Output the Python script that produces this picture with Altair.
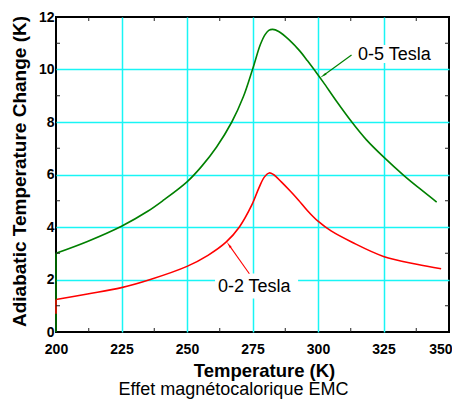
import altair as alt
import pandas as pd

# ---- data ----
temp_05 = [200, 212, 225, 235, 241, 250, 255.5, 261.3, 267.1, 271.5, 275, 278, 279.8,
           281.2, 282.7, 285, 289, 293.1, 296, 299, 302, 307, 312.9, 318.5, 325,
           332.7, 339, 345.3]
dT_05 = [3.0, 3.45, 4.03, 4.6, 5.02, 5.72, 6.3, 7.05, 8.0, 8.96, 10.0, 10.95, 11.33,
         11.49, 11.53, 11.45, 11.13, 10.7, 10.33, 9.93, 9.52, 8.8, 8.0, 7.32, 6.67,
         5.97, 5.45, 4.95]

temp_02 = [200, 212, 225, 236, 250, 258, 265, 270, 274.7, 277.5, 279.5, 281.4, 283,
           286, 289.3, 292.5, 296, 300, 305, 313, 325, 337.7, 347]
dT_02 = [1.24, 1.45, 1.69, 2.0, 2.5, 2.92, 3.43, 4.0, 4.83, 5.5, 5.9, 6.06, 6.0,
         5.72, 5.38, 5.03, 4.62, 4.22, 3.85, 3.42, 2.88, 2.58, 2.41]

series_names = ["0-5 Tesla", "0-2 Tesla"]
series_colors = ["#008000", "#ff0000"]
arrow_colors = ["#0f8a5a", "#ff0000"]

# annotations: text anchor, arrow tail, arrow head, white label box
label_T = [315.3, 261.8]
label_V = [10.57, 1.72]
tail_T = [312.8, 273.8]
tail_V = [10.55, 2.22]
head_T = [302.3, 266.2]
head_V = [9.79, 3.29]
head_angle = [234, 325]
box_T1 = [314.5, 260.7]
box_T2 = [343.5, 292.4]
box_V1 = [10.25, 1.28]
box_V2 = [10.93, 2.23]

x_ticks = [200, 225, 250, 275, 300, 325, 350]
y_ticks = [0, 2, 4, 6, 8, 10, 12]
x_minor = [212.5, 237.5, 262.5, 287.5, 312.5, 337.5]
y_minor = [1, 3, 5, 7, 9, 11]

x_title = "Temperature (K)"
y_title = "Adiabatic Temperature Change (K)"
caption = "Effet magnétocalorique EMC"

# ---- tables ----
curves = pd.concat([
    pd.DataFrame({"T": temp_05, "V": dT_05, "s": series_names[0]}),
    pd.DataFrame({"T": temp_02, "V": dT_02, "s": series_names[1]}),
])
starts = pd.DataFrame({"T": [temp_05[0], temp_02[0]], "V0": [0, 0.7],
                       "V": [dT_05[0], dT_02[0]], "s": series_names})
ann = pd.DataFrame({"s": series_names, "lt": label_T, "lv": label_V,
                    "tt": tail_T, "tv": tail_V, "ht": head_T, "hv": head_V,
                    "ang": head_angle, "bt1": box_T1, "bt2": box_T2,
                    "bv1": box_V1, "bv2": box_V2})

FONT = "Liberation Sans"
xs = alt.Scale(domain=[200, 350], nice=False, zero=False)
ys = alt.Scale(domain=[0, 12], nice=False, zero=False)
color = alt.Scale(domain=series_names, range=series_colors)
acolor = alt.Scale(domain=series_names, range=arrow_colors)

grid_x = {"condition": {"test": "datum.value <= 200 || datum.value >= 350",
                        "value": "transparent"}, "value": "#19f5f5"}
grid_y = {"condition": {"test": "datum.value <= 0 || datum.value >= 12",
                        "value": "transparent"}, "value": "#19f5f5"}
last_align = {"condition": {"test": "datum.value >= 350", "value": "right"},
              "value": "center"}
last_offset = {"condition": {"test": "datum.value >= 350", "value": 3}, "value": 0}

X = alt.X("T:Q", scale=xs, axis=alt.Axis(
    values=x_ticks, title=x_title, grid=True, gridColor=grid_x, gridWidth=1.5,
    ticks=False, tickSize=0, domain=False, labelPadding=10, labelFlush=False,
    labelOverlap=False, labelFont=FONT, labelFontWeight=700, labelFontSize=14,
    labelColor="black", labelAlign=last_align, labelOffset=last_offset,
    titleX=208, titleY=44, titleBaseline="alphabetic", titleFontSize=18.5))
Y = alt.Y("V:Q", scale=ys, axis=alt.Axis(
    values=y_ticks, title=y_title, grid=True, gridColor=grid_y, gridWidth=1.5,
    ticks=False, tickSize=0, domain=False, labelPadding=2, labelFlush=False,
    labelOverlap=False, labelFont=FONT, labelFontWeight=700, labelFontSize=14,
    labelColor="black",
    titleX=-31, titleY=154, titleBaseline="alphabetic", titleFontSize=19))

boxes = alt.Chart(ann).mark_rect(color="white").encode(
    x=alt.X("bt1:Q", scale=xs), x2="bt2", y=alt.Y("bv1:Q", scale=ys), y2="bv2")

lines = alt.Chart(curves).mark_line(strokeWidth=1.6, interpolate="catmull-rom").encode(
    x=X, y=Y, color=alt.Color("s:N", scale=color, legend=None), detail="s:N")

verts = alt.Chart(starts).mark_rule(strokeWidth=1.5).encode(
    x=alt.X("T:Q", scale=xs), y=alt.Y("V0:Q", scale=ys), y2="V",
    color=alt.Color("s:N", scale=color, legend=None))

shafts = alt.Chart(ann).mark_rule(strokeWidth=1.1).encode(
    x=alt.X("tt:Q", scale=xs), x2="ht", y=alt.Y("tv:Q", scale=ys), y2="hv",
    color=alt.Color("s:N", scale=acolor, legend=None))

heads = alt.Chart(ann).mark_point(shape="wedge", size=70, filled=True, opacity=1).encode(
    x=alt.X("ht:Q", scale=xs), y=alt.Y("hv:Q", scale=ys), angle=alt.Angle("ang:Q", scale=None),
    color=alt.Color("s:N", scale=acolor, legend=None))

labels = alt.Chart(ann).mark_text(align="left", baseline="middle", font=FONT,
                                  fontSize=18, color="black").encode(
    x=alt.X("lt:Q", scale=xs), y=alt.Y("lv:Q", scale=ys), text="s:N")

xm = pd.DataFrame({"T": x_minor})
ym = pd.DataFrame({"V": y_minor})
tick_b = alt.Chart(xm).mark_rule(color="#222", strokeWidth=1).encode(
    x=alt.X("T:Q", scale=xs), y=alt.value(315), y2=alt.value(311))
tick_t = alt.Chart(xm).mark_rule(color="#222", strokeWidth=1).encode(
    x=alt.X("T:Q", scale=xs), y=alt.value(0), y2=alt.value(4))
tick_l = alt.Chart(ym).mark_rule(color="#222", strokeWidth=1).encode(
    y=alt.Y("V:Q", scale=ys), x=alt.value(0), x2=alt.value(4))
tick_r = alt.Chart(ym).mark_rule(color="#222", strokeWidth=1).encode(
    y=alt.Y("V:Q", scale=ys), x=alt.value(393), x2=alt.value(389))

cap = alt.Chart(pd.DataFrame({"c": [caption]})).mark_text(
    font=FONT, fontSize=18, color="black", align="center", baseline="alphabetic").encode(
    text="c:N", x=alt.value(177.5), y=alt.value(378))

chart = alt.layer(boxes, lines, verts, shafts, heads, labels,
                  tick_b, tick_t, tick_l, tick_r, cap).properties(
    width=393, height=315,
    padding={"left": 48, "top": 9, "right": 3, "bottom": 67},
    autosize=alt.AutoSizeParams(type="none"),
).configure_view(stroke="black", strokeWidth=2).configure_axis(
    titleFont=FONT, titleFontWeight="bold", titleColor="black",
)

chart.save("out.html", embed_options={"renderer": "svg", "actions": False})
